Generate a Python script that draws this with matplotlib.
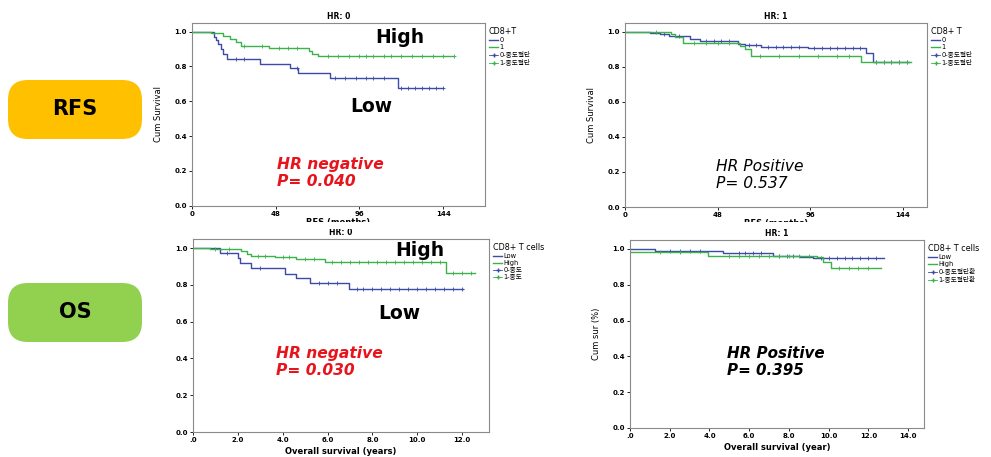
import numpy as np
import matplotlib
matplotlib.use("Agg")
import matplotlib.pyplot as plt
from matplotlib.lines import Line2D
from matplotlib.patches import FancyBboxPatch, Rectangle

plt.rcParams['font.family'] = ['DejaVu Sans', 'Noto Sans CJK KR']

BLUE = "#3d4ba6"
GREEN = "#3cb24a"

# RFS, HR: 0
rfs0_low_t = [0, 12.4, 13.5, 15, 16.5, 18, 20, 39, 56, 61, 79, 118, 144]
rfs0_low_s = [1.0, 0.97, 0.95, 0.93, 0.90, 0.87, 0.845, 0.815, 0.79, 0.765, 0.735, 0.677, 0.677]
rfs0_high_t = [0, 11, 18, 22, 25, 28, 44, 67, 69, 72, 150]
rfs0_high_s = [1.0, 0.99, 0.975, 0.96, 0.94, 0.915, 0.905, 0.89, 0.87, 0.86, 0.86]
rfs0_low_cens = [25, 30, 60, 82, 88, 94, 100, 104, 110, 120, 124, 128, 132, 136, 140, 144]
rfs0_high_cens = [30, 40, 50, 55, 60, 78, 84, 90, 96, 100, 104, 110, 114, 120, 126, 132, 138, 144, 150]

# RFS, HR: 1
rfs1_low_t = [0, 13, 18, 23, 33.6, 38.8, 58.6, 62, 70.7, 94.8, 125, 128.4, 147]
rfs1_low_s = [1.0, 0.995, 0.985, 0.975, 0.96, 0.95, 0.93, 0.922, 0.915, 0.905, 0.88, 0.83, 0.83]
rfs1_high_t = [0, 24, 26, 30, 59.5, 62, 65.5, 122.4, 148]
rfs1_high_s = [1.0, 0.985, 0.97, 0.935, 0.92, 0.90, 0.863, 0.828, 0.828]
rfs1_low_cens = [20, 28, 42, 46, 50, 54, 64, 68, 74, 78, 82, 86, 90, 98, 102, 106, 110, 114, 118, 122,
                 130, 134, 138, 142, 146]
rfs1_high_cens = [16, 36, 42, 48, 54, 70, 80, 90, 100, 110, 116, 130, 134, 138, 142, 146]

# OS, HR: 0
os0_low_t = [0, 1.19, 2.0, 2.1, 2.6, 4.1, 4.6, 5.2, 6.94, 12.04]
os0_low_s = [1.0, 0.976, 0.945, 0.918, 0.891, 0.862, 0.836, 0.809, 0.778, 0.778]
os0_high_t = [0, 0.74, 2.16, 2.4, 2.6, 3.64, 4.6, 5.87, 11.3, 12.56]
os0_high_s = [1.0, 0.995, 0.985, 0.97, 0.96, 0.951, 0.942, 0.927, 0.867, 0.867]
os0_low_cens = [1.5, 3.0, 5.6, 6.0, 6.4, 7.3, 7.6, 8.0, 8.4, 8.8, 9.2, 9.6, 10.0, 10.4, 10.8, 11.2, 11.6, 12.0]
os0_high_cens = [1.0, 1.6, 2.9, 3.2, 4.0, 4.3, 5.0, 5.4, 6.2, 6.6, 7.0, 7.4, 7.8, 8.2, 8.6, 9.0, 9.4,
                 9.8, 10.2, 10.6, 11.0, 11.6, 12.0, 12.4]

# OS, HR: 1
os1_low_t = [0, 1.26, 4.7, 7.2, 8.55, 9.2, 12.8]
os1_low_s = [1.0, 0.99, 0.976, 0.963, 0.954, 0.948, 0.948]
os1_high_t = [0, 3.94, 9.4, 9.7, 10.1, 12.66]
os1_high_s = [0.98, 0.963, 0.955, 0.926, 0.895, 0.895]
os1_low_cens = [2, 2.5, 3, 3.5, 5.5, 5.8, 6.2, 6.6, 7.5, 7.9, 8.2, 9.6, 10, 10.4, 10.8, 11.2, 11.6, 12, 12.4]
os1_high_cens = [1.5, 2.5, 5, 5.5, 6, 6.5, 7, 7.5, 8, 8.5, 9, 10.5, 11, 11.5, 12]

rfs_ticks = [0, 48, 96, 144]
rfs_ticklabels = ["0", "48", "96", "144"]
os0_ticks = [0, 2, 4, 6, 8, 10, 12]
os1_ticks = [0, 2, 4, 6, 8, 10, 12, 14]
y_ticks = [0, 0.2, 0.4, 0.6, 0.8, 1.0]
y_ticklabels = ["0.0", "0.2", "0.4", "0.6", "0.8", "1.0"]


def step_value(t, s, x):
    i = np.searchsorted(t, x, side="right") - 1
    return np.array(s)[i]


def km(ax, t, s, cens, color):
    ax.step(t, s, where="post", color=color, lw=1.0)
    ax.plot(cens, step_value(t, s, cens), ls="none", marker="+", ms=3, mew=0.6, color=color)


def style(ax, title, xlim, xticks, xticklabels):
    ax.set_xlim(xlim)
    ax.set_ylim(0, 1.05)
    ax.set_xticks(xticks)
    ax.set_xticklabels(xticklabels)
    ax.set_yticks(y_ticks)
    ax.set_yticklabels(y_ticklabels)
    ax.tick_params(labelsize=5, length=2, width=0.6, pad=1.5)
    for lbl in ax.get_xticklabels() + ax.get_yticklabels():
        lbl.set_fontweight("bold")
    for sp in ax.spines.values():
        sp.set_color("#8a8a8a")
        sp.set_linewidth(0.8)
    ax.set_title(title, fontsize=5.5, fontweight="bold", pad=3)


def legend(ax, title, labels):
    handles = [Line2D([], [], color=BLUE, lw=1), Line2D([], [], color=GREEN, lw=1),
               Line2D([], [], color=BLUE, lw=0.6, marker="+", ms=3),
               Line2D([], [], color=GREEN, lw=0.6, marker="+", ms=3)]
    leg = ax.legend(handles, labels, title=title, loc="upper left", bbox_to_anchor=(1.0, 1.0),
                    frameon=False, fontsize=4.8, title_fontsize=5.8, handlelength=1.4,
                    labelspacing=0.15, handletextpad=0.2, borderaxespad=0.2)
    leg._legend_box.align = "left"


fig = plt.figure(figsize=(9.91, 4.57), dpi=100)

# RFS HR: 0
ax1 = fig.add_axes([0.1937, 0.550, 0.2957, 0.3998])
km(ax1, rfs0_low_t, rfs0_low_s, rfs0_low_cens, BLUE)
km(ax1, rfs0_high_t, rfs0_high_s, rfs0_high_cens, GREEN)
style(ax1, "HR: 0", (0, 168), rfs_ticks, rfs_ticklabels)
ax1.set_ylabel("Cum Survival", fontsize=6, labelpad=8)
ax1.set_xlabel("RFS (months)", fontsize=6, fontweight="bold", labelpad=1)
legend(ax1, "CD8+T", ["0", "1", "0-중도절단", "1-중도절단"])
ax1.text(119, 0.965, "High", fontsize=13.5, fontweight="bold", ha="center", va="center")
ax1.text(103, 0.57, "Low", fontsize=13.5, fontweight="bold", ha="center", va="center")
ax1.text(48.6, 0.234, "HR negative", fontsize=11.2, fontweight="bold", style="italic",
         color="#e8141c", va="center")
ax1.text(48.6, 0.138, "P= 0.040", fontsize=11.2, fontweight="bold", style="italic",
         color="#e8141c", va="center")

# RFS HR: 1
ax2 = fig.add_axes([0.6307, 0.547, 0.3047, 0.4026])
km(ax2, rfs1_low_t, rfs1_low_s, rfs1_low_cens, BLUE)
km(ax2, rfs1_high_t, rfs1_high_s, rfs1_high_cens, GREEN)
style(ax2, "HR: 1", (0, 156.5), rfs_ticks, rfs_ticklabels)
ax2.set_ylabel("Cum Survival", fontsize=6, labelpad=8)
ax2.set_xlabel("RFS (months)", fontsize=6, fontweight="bold", labelpad=1)
legend(ax2, "CD8+ T", ["0", "1", "0-중도절단", "1-중도절단"])
ax2.text(47.4, 0.232, "HR Positive", fontsize=11.2, style="italic", va="center")
ax2.text(47.4, 0.133, "P= 0.537", fontsize=11.2, style="italic", va="center")

# the lower row of panels covers the bottom of the upper x labels
fig.patches.append(Rectangle((0.15, 1 - 229 / 457), 0.8, 7 / 457, transform=fig.transFigure,
                             facecolor="white", edgecolor="none", zorder=5))

# OS HR: 0
ax3 = fig.add_axes([0.1948, 0.0547, 0.2987, 0.4223])
km(ax3, os0_low_t, os0_low_s, os0_low_cens, BLUE)
km(ax3, os0_high_t, os0_high_s, os0_high_cens, GREEN)
style(ax3, "HR: 0", (0, 13.2), os0_ticks, [".0"] + ["%.1f" % v for v in os0_ticks[1:]])
ax3.set_xlabel("Overall survival (years)", fontsize=6, fontweight="bold", labelpad=3)
legend(ax3, "CD8+ T cells", ["Low", "High", "0-중도", "1-중도"])
ax3.text(10.1, 0.99, "High", fontsize=13.5, fontweight="bold", ha="center", va="center")
ax3.text(9.2, 0.645, "Low", fontsize=13.5, fontweight="bold", ha="center", va="center")
ax3.text(3.72, 0.427, "HR negative", fontsize=11.2, fontweight="bold", style="italic",
         color="#e8141c", va="center")
ax3.text(3.72, 0.336, "P= 0.030", fontsize=11.2, fontweight="bold", style="italic",
         color="#e8141c", va="center")

# OS HR: 1
ax4 = fig.add_axes([0.6357, 0.0635, 0.2967, 0.4115])
km(ax4, os1_low_t, os1_low_s, os1_low_cens, BLUE)
km(ax4, os1_high_t, os1_high_s, os1_high_cens, GREEN)
style(ax4, "HR: 1", (0, 14.8), os1_ticks, [".0"] + ["%.1f" % v for v in os1_ticks[1:]])
ax4.set_ylabel("Cum sur (%)", fontsize=6, labelpad=8)
ax4.set_xlabel("Overall survival (year)", fontsize=6, fontweight="bold", labelpad=3)
legend(ax4, "CD8+ T cells", ["Low", "High", "0-중도절단환", "1-중도절단환"])
ax4.text(4.86, 0.415, "HR Positive", fontsize=10.9, fontweight="bold", style="italic", va="center")
ax4.text(4.86, 0.323, "P= 0.395", fontsize=10.9, fontweight="bold", style="italic", va="center")

# row labels
for label, color, y0 in [("RFS", "#ffc000", 80), ("OS", "#92d050", 283)]:
    x0, w, h = 8, 134, 59
    box = FancyBboxPatch((x0 / 991, 1 - (y0 + h) / 457), w / 991, h / 457,
                         boxstyle="round,pad=0,rounding_size=0.02", transform=fig.transFigure,
                         facecolor=color, edgecolor="none", mutation_aspect=991 / 457)
    fig.patches.append(box)
    fig.text((x0 + w / 2) / 991, 1 - (y0 + h / 2) / 457, label, fontsize=15, fontweight="bold",
             ha="center", va="center")

fig.savefig("out.png", dpi=100)
